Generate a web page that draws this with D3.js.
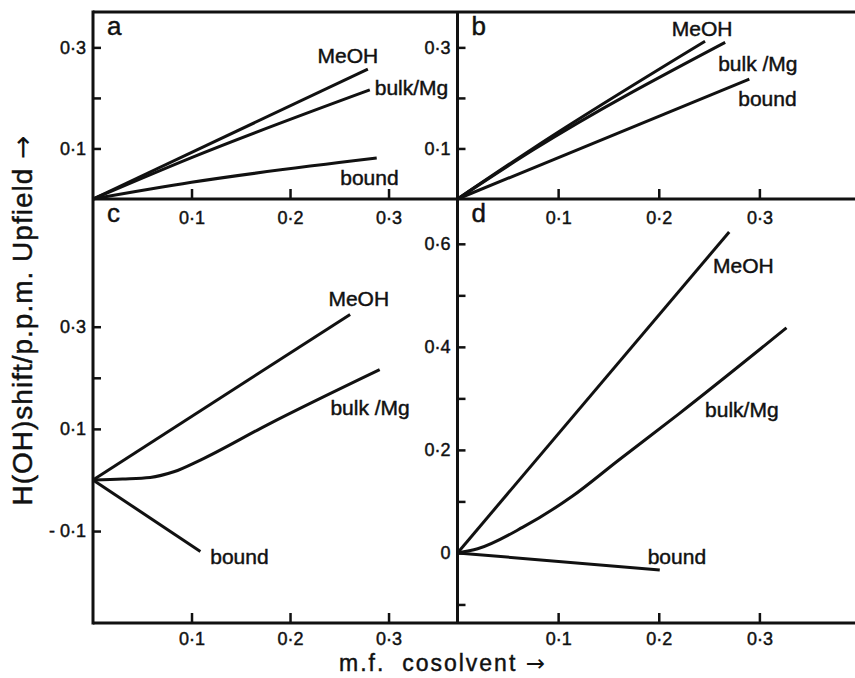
<!DOCTYPE html>
<html>
<head>
<meta charset="utf-8">
<script src="https://cdn.jsdelivr.net/npm/d3@7"></script>
<style>
  body { margin: 0; background: #fff; }
  text { font-family: "Liberation Sans", Arial, sans-serif; fill: #111; stroke: #111; stroke-width: 0.45px; }
  tspan.arrow { font-family: "DejaVu Sans", sans-serif; stroke-width: 0; }
</style>
</head>
<body>
<svg id="chart"></svg>
<script>
// series: [mole fraction cosolvent, OH shift ppm]
const aMeOH = [[0, 0], [0.279, 0.257]];
const aBulk = [[0, 0], [0.1, 0.082], [0.281, 0.216]];
const aBound = [[0, 0], [0.1, 0.033], [0.288, 0.081]];

const bMeOH = [[0, 0], [0.075, 0.1], [0.246, 0.312]];
const bBulk = [[0, 0], [0.075, 0.097], [0.266, 0.31]];
const bBound = [[0, 0], [0.29, 0.237]];

const cMeOH = [[0, 0], [0.261, 0.324]];
const cBulk = [[0, 0], [0.03, 0.002], [0.058, 0.005], [0.082, 0.016], [0.109, 0.039], [0.177, 0.108], [0.291, 0.216]];
const cBound = [[0, 0], [0.109, -0.14]];

const dMeOH = [[0, 0], [0.27, 0.623]];
const dBulk = [[0, 0], [0.02, 0.008], [0.065, 0.05], [0.114, 0.11], [0.16, 0.18], [0.22, 0.27], [0.327, 0.437]];
const dBound = [[0, 0], [0.201, -0.033]];

// ticks
const xTicks = [0.1, 0.2, 0.3];
const xTickText = ['0·1', '0·2', '0·3'];
const abYTicks = [0.1, 0.2, 0.3];
const abYTickText = ['0·1', '', '0·3'];
const cYTicks = [-0.1, 0.1, 0.2, 0.3];
const cYTickText = ['- 0·1', '0·1', '', '0·3'];
const dYTicks = [-0.1, 0, 0.1, 0.2, 0.3, 0.4, 0.5, 0.6];
const dYTickText = ['', '0', '', '0·2', '', '0·4', '', '0·6'];

const w = 855;
const h = 678;

const svg = d3.select('#chart')
  .attr('width', w)
  .attr('height', h);

// frame edges
const edgeLeft = 93;
const edgeMid = 457.5;
const edgeRight = 855;
const edgeTop = 12;
const edgeMidY = 199;
const edgeBottom = 623;

const xLeft = d3.scaleLinear().domain([0, 0.37]).range([edgeLeft, edgeMid]);
const xRight = d3.scaleLinear().domain([0, 0.395]).range([edgeMid, edgeRight]);
const yTop = d3.scaleLinear().domain([0, 0.37]).range([edgeMidY, edgeTop]);
const yC = d3.scaleLinear().domain([-0.28, 0.55]).range([edgeBottom, edgeMidY]);
const yD = d3.scaleLinear().domain([-0.136, 0.687]).range([edgeBottom, edgeMidY]);

const panels = [
  { id: 'a', x: xLeft, y: yTop, yTicks: abYTicks, yText: abYTickText, pad: 12,
    series: [aMeOH, aBulk, aBound],
    labels: [['MeOH', 0.228, 0.269], ['bulk/Mg', 0.286, 0.206], ['bound', 0.251, 0.028]] },
  { id: 'b', x: xRight, y: yTop, yTicks: abYTicks, yText: abYTickText, pad: 12,
    series: [bMeOH, bBulk, bBound],
    labels: [['MeOH', 0.213, 0.323], ['bulk /Mg', 0.259, 0.254], ['bound', 0.279, 0.185]] },
  { id: 'c', x: xLeft, y: yC, yTicks: cYTicks, yText: cYTickText, pad: 9,
    series: [cMeOH, cBulk, cBound],
    labels: [['MeOH', 0.239, 0.341], ['bulk /Mg', 0.241, 0.127], ['bound', 0.119, -0.164]] },
  { id: 'd', x: xRight, y: yD, yTicks: dYTicks, yText: dYTickText, pad: 9,
    series: [dMeOH, dBulk, dBound],
    labels: [['MeOH', 0.254, 0.544], ['bulk/Mg', 0.246, 0.264], ['bound', 0.189, -0.021]] },
];

// frame
const frame = svg.append('g')
  .attr('stroke', '#111')
  .attr('stroke-width', 3)
  .attr('fill', 'none');
frame.append('line').attr('x1', edgeLeft).attr('x2', edgeRight).attr('y1', edgeTop).attr('y2', edgeTop);
frame.append('line').attr('x1', edgeLeft).attr('x2', edgeRight).attr('y1', edgeMidY).attr('y2', edgeMidY);
frame.append('line').attr('x1', edgeLeft).attr('x2', edgeRight).attr('y1', edgeBottom).attr('y2', edgeBottom);
frame.append('line').attr('x1', edgeLeft).attr('x2', edgeLeft).attr('y1', edgeTop - 1.5).attr('y2', edgeBottom + 1.5);
frame.append('line').attr('x1', edgeMid).attr('x2', edgeMid).attr('y1', edgeTop).attr('y2', edgeBottom);

panels.forEach((p) => {
  const g = svg.append('g').attr('class', 'panel-' + p.id);
  const y0 = p.y.range()[0];
  const x0 = p.x.range()[0];

  // x ticks point up into the panel, labels below the axis
  const xAxis = d3.axisBottom(p.x)
    .tickValues(xTicks)
    .tickFormat((d, i) => xTickText[i])
    .tickSizeInner(-10)
    .tickSizeOuter(0)
    .tickPadding(p.pad);
  const gx = g.append('g')
    .attr('transform', `translate(0, ${y0})`)
    .call(xAxis);

  // y ticks point right into the panel, labels to the left
  const yAxis = d3.axisLeft(p.y)
    .tickValues(p.yTicks)
    .tickFormat((d, i) => p.yText[i])
    .tickSizeInner(-8)
    .tickSizeOuter(0)
    .tickPadding(7);
  const gy = g.append('g')
    .attr('transform', `translate(${x0}, 0)`)
    .call(yAxis);

  [gx, gy].forEach((ax) => {
    ax.select('.domain').remove();
    ax.selectAll('line').attr('stroke', '#111').attr('stroke-width', 2.5);
    ax.selectAll('text')
      .attr('fill', '#111')
      .style('font-size', '18px')
      .style('font-family', '"Liberation Sans", Arial, sans-serif');
  });

  const line = d3.line()
    .x((d) => p.x(d[0]))
    .y((d) => p.y(d[1]))
    .curve(d3.curveMonotoneX);

  g.selectAll('path.series')
    .data(p.series)
    .enter()
    .append('path')
    .attr('class', 'series')
    .attr('fill', 'none')
    .attr('stroke', '#111')
    .attr('stroke-width', 3)
    .attr('stroke-linejoin', 'round')
    .attr('d', line);

  g.selectAll('text.label')
    .data(p.labels)
    .enter()
    .append('text')
    .attr('class', 'label')
    .attr('x', (d) => p.x(d[1]))
    .attr('y', (d) => p.y(d[2]))
    .style('font-size', '21px')
    .text((d) => d[0]);

  // panel letter
  g.append('text')
    .attr('x', x0 + 14)
    .attr('y', p.y.range()[1] + 23)
    .style('font-size', '26px')
    .text(p.id);
});

// axis titles
const yTitle = svg.append('text')
  .attr('transform', 'translate(32, 320) rotate(-90)')
  .attr('text-anchor', 'middle')
  .style('font-size', '28px')
  .style('letter-spacing', '1px');
yTitle.append('tspan').text('H(OH)shift/p.p.m. Upfield ');
yTitle.append('tspan').attr('class', 'arrow').text('→');

const xTitle = svg.append('text')
  .attr('x', 443)
  .attr('y', 671)
  .attr('text-anchor', 'middle')
  .style('font-size', '23px')
  .style('letter-spacing', '2px');
xTitle.append('tspan').text('m.f.\u00a0 cosolvent ');
xTitle.append('tspan').attr('class', 'arrow').text('→');
</script>
</body>
</html>
